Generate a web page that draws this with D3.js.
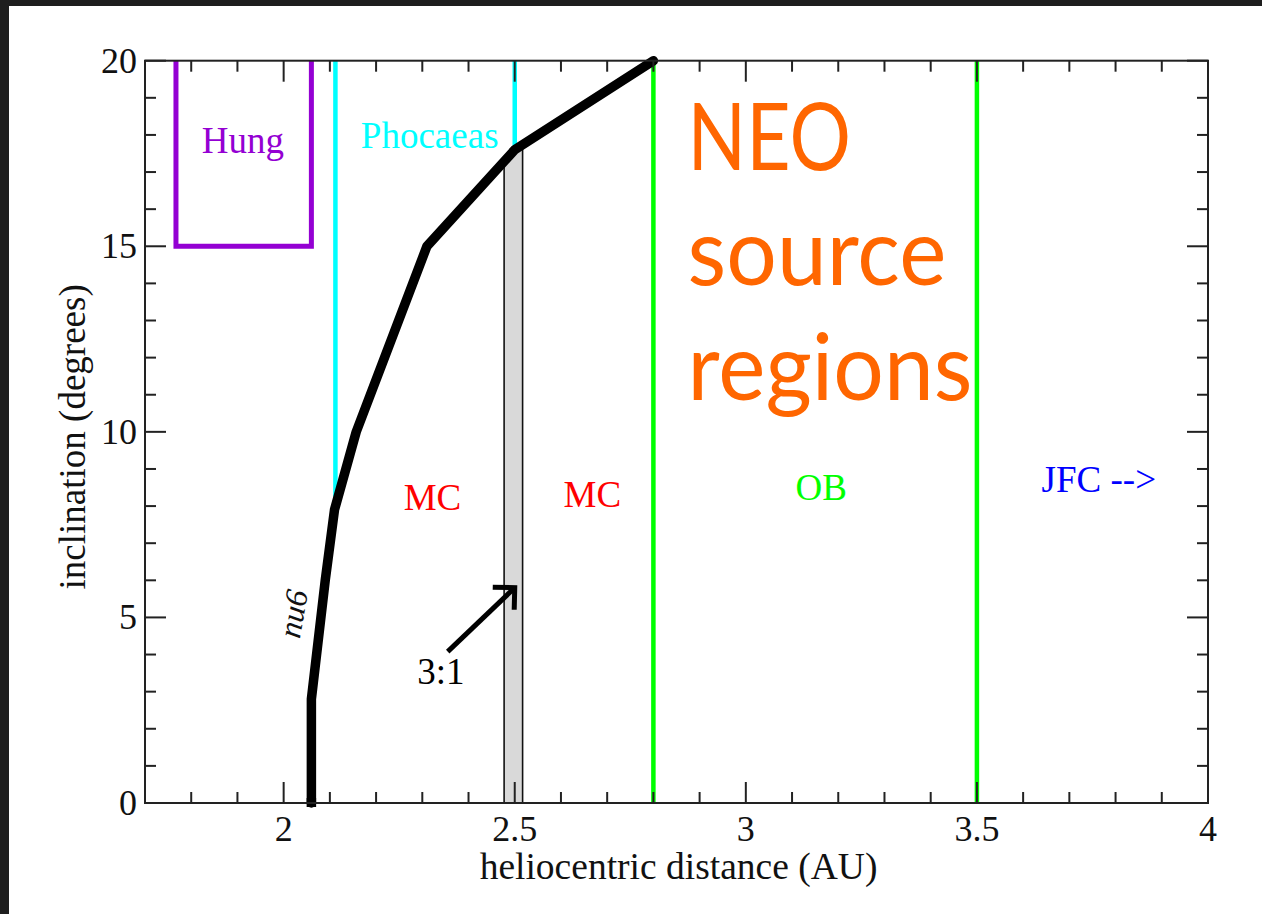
<!DOCTYPE html>
<html>
<head>
<meta charset="utf-8">
<script src="https://cdn.jsdelivr.net/npm/d3@7"></script>
<style>
  html, body { margin: 0; padding: 0; background: #1e1e1e; }
  svg { display: block; }
</style>
</head>
<body>
<script>
// Axis ranges and ticks
const xDomain = [1.7, 4];
const yDomain = [0, 20];
const xMajorTicks = [2, 2.5, 3, 3.5, 4];
const xTickLabels = ["2", "2.5", "3", "3.5", "4"];
const yMajorTicks = [0, 5, 10, 15, 20];
const yTickLabels = ["0", "5", "10", "15", "20"];

// nu6 secular resonance boundary
const nu6Dist = [2.06, 2.06, 2.09, 2.11, 2.157, 2.31, 2.5, 2.8];
const nu6Inc  = [0, 2.8, 6, 7.9, 10, 15, 17.6, 20];

// Hungaria box (semimajor axis range, inclination range)
const hungDist = [1.767, 2.06];
const hungInc = [15, 20];

// Phocaea boundaries: distance, lower inclination, upper inclination
const phocaeaDist = [2.112, 2.5];
const phocaeaLow = [7.9, 17.6];
const phocaeaHigh = [20, 20];

// Outer belt boundaries
const outerBeltDist = [2.8, 3.5];

// 3:1 mean-motion resonance band
const res31Dist = [2.477, 2.517];

// Region labels
const labelText  = ["Hung", "Phocaeas", "MC", "MC", "OB", "JFC -->", "3:1"];
const labelDist  = [1.912, 2.316, 2.322, 2.668, 3.163, 3.640, 2.34];
const labelInc   = [17.5, 17.64, 7.89, 7.97, 8.16, 8.38, 3.2];
const labelColor = ["#9400d3", "#00ffff", "#ff0000", "#ff0000", "#00ff00", "#0000ff", "#000000"];
const labelAnchor = ["middle", "middle", "middle", "middle", "middle", "start", "middle"];

// Arrow pointing at the 3:1 band: [distance, inclination] of tail and tip
const arrowTail = [2.355, 4.08];
const arrowTip = [2.5, 5.8];

// Title block
const titleLines = ["NEO", "source", "regions"];

const W = 1262, H = 914;
const margin = { left: 145, top: 60.7, right: W - 1208, bottom: H - 803 };

const svg = d3.select("body").append("svg")
  .attr("width", W).attr("height", H);

// dark frame with white page
svg.append("rect").attr("width", W).attr("height", H).attr("fill", "#1e1e1e");
svg.append("rect").attr("x", 9).attr("y", 6).attr("width", W - 9).attr("height", H - 6).attr("fill", "#ffffff");

const x = d3.scaleLinear().domain(xDomain).range([margin.left, W - margin.right]);
const y = d3.scaleLinear().domain(yDomain).range([H - margin.bottom, margin.top]);

const serif = "'Liberation Serif', 'Times New Roman', serif";
const axisColor = "#222";

// 3:1 band, top edge follows the nu6 curve
const nu6Interp = d3.scaleLinear().domain(nu6Dist.slice(2)).range(nu6Inc.slice(2));
const bandPts = [
  [res31Dist[0], 0],
  [res31Dist[0], nu6Interp(res31Dist[0])],
  [res31Dist[1], nu6Interp(res31Dist[1])],
  [res31Dist[1], 0]
];
svg.append("path")
  .attr("d", d3.line().x(d => x(d[0])).y(d => y(d[1]))(bandPts))
  .attr("fill", "#d9d9d9").attr("stroke", "none");
res31Dist.forEach(d => {
  svg.append("line")
    .attr("x1", x(d)).attr("x2", x(d))
    .attr("y1", y(0)).attr("y2", y(nu6Interp(d)))
    .attr("stroke", "#111").attr("stroke-width", 1.6);
});

// Hungaria box (open at the top)
svg.append("path")
  .attr("d", d3.line().x(d => x(d[0])).y(d => y(d[1]))([
    [hungDist[0], hungInc[1]], [hungDist[0], hungInc[0]],
    [hungDist[1], hungInc[0]], [hungDist[1], hungInc[1]]
  ]))
  .attr("fill", "none").attr("stroke", "#9400d3").attr("stroke-width", 5);

// Phocaea lines
phocaeaDist.forEach((d, i) => {
  svg.append("line")
    .attr("x1", x(d)).attr("x2", x(d))
    .attr("y1", y(phocaeaLow[i])).attr("y2", y(phocaeaHigh[i]))
    .attr("stroke", "#00ffff").attr("stroke-width", 4.5);
});

// Outer belt lines
outerBeltDist.forEach(d => {
  svg.append("line")
    .attr("x1", x(d)).attr("x2", x(d))
    .attr("y1", y(yDomain[0])).attr("y2", y(yDomain[1]))
    .attr("stroke", "#00ff00").attr("stroke-width", 4.5);
});

// nu6 curve
svg.append("path")
  .attr("d", d3.line().x(d => x(d[0])).y(d => y(d[1]))(nu6Dist.map((d, i) => [d, nu6Inc[i]])))
  .attr("fill", "none").attr("stroke", "#000").attr("stroke-width", 9.5)
  .attr("stroke-linejoin", "round").attr("stroke-linecap", "round");
// extend the foot slightly below the axis
svg.append("line")
  .attr("x1", x(nu6Dist[0])).attr("x2", x(nu6Dist[0]))
  .attr("y1", y(0) - 5).attr("y2", y(0) + 4)
  .attr("stroke", "#000").attr("stroke-width", 9.5);

// Frame
svg.append("rect")
  .attr("x", x(xDomain[0])).attr("y", y(yDomain[1]))
  .attr("width", x(xDomain[1]) - x(xDomain[0]))
  .attr("height", y(yDomain[0]) - y(yDomain[1]))
  .attr("fill", "none").attr("stroke", axisColor).attr("stroke-width", 2);

// Ticks (inward, on all four sides)
const majorLen = 21, minorLen = 11;
const xMinor = d3.range(18, 40).map(v => v / 10).filter(v => !xMajorTicks.some(m => Math.abs(m - v) < 1e-9));
const yMinor = d3.range(1, 20).filter(v => v % 5 !== 0);
const tickG = svg.append("g").attr("stroke", axisColor).attr("stroke-width", 2);
function xTick(v, len) {
  tickG.append("line").attr("x1", x(v)).attr("x2", x(v)).attr("y1", y(0)).attr("y2", y(0) - len);
  tickG.append("line").attr("x1", x(v)).attr("x2", x(v)).attr("y1", y(20)).attr("y2", y(20) + len);
}
function yTick(v, len) {
  tickG.append("line").attr("y1", y(v)).attr("y2", y(v)).attr("x1", x(xDomain[0])).attr("x2", x(xDomain[0]) + len);
  tickG.append("line").attr("y1", y(v)).attr("y2", y(v)).attr("x1", x(xDomain[1])).attr("x2", x(xDomain[1]) - len);
}
xMajorTicks.forEach(v => xTick(v, majorLen));
xMinor.forEach(v => xTick(v, minorLen));
yMajorTicks.forEach(v => yTick(v, majorLen));
yMinor.forEach(v => yTick(v, minorLen));

// Tick labels
xMajorTicks.forEach((v, i) => {
  svg.append("text")
    .attr("x", x(v)).attr("y", y(0) + 38)
    .attr("text-anchor", "middle")
    .attr("font-family", serif).attr("font-size", 36).attr("fill", "#111")
    .text(xTickLabels[i]);
});
yMajorTicks.forEach((v, i) => {
  svg.append("text")
    .attr("x", x(xDomain[0]) - 8).attr("y", y(v) + 12)
    .attr("text-anchor", "end")
    .attr("font-family", serif).attr("font-size", 36).attr("fill", "#111")
    .text(yTickLabels[i]);
});

// Axis titles
svg.append("text")
  .attr("x", (x(xDomain[0]) + x(xDomain[1])) / 2 + 2).attr("y", 879)
  .attr("text-anchor", "middle")
  .attr("font-family", serif).attr("font-size", 37.5).attr("fill", "#111")
  .text("heliocentric distance (AU)");
svg.append("text")
  .attr("transform", `translate(85, ${(y(0) + y(20)) / 2 + 5}) rotate(-90)`)
  .attr("text-anchor", "middle")
  .attr("font-family", serif).attr("font-size", 37).attr("fill", "#111")
  .text("inclination (degrees)");

// Region labels
labelText.forEach((t, i) => {
  svg.append("text")
    .attr("x", x(labelDist[i])).attr("y", y(labelInc[i]))
    .attr("text-anchor", labelAnchor[i])
    .attr("font-family", serif).attr("font-size", 37)
    .attr("fill", labelColor[i])
    .text(t);
});

// nu6 label along the curve
svg.append("text")
  .attr("transform", `translate(${x(2.02)}, ${y(5.1)}) rotate(-80)`)
  .attr("text-anchor", "middle").attr("dy", "0.35em")
  .attr("font-family", serif).attr("font-style", "italic").attr("font-size", 32)
  .attr("fill", "#111")
  .text("nu6");

// Arrow to the 3:1 band
const ax0 = x(arrowTail[0]), ay0 = y(arrowTail[1]);
const ax1 = x(arrowTip[0]), ay1 = y(arrowTip[1]);
const ang = Math.atan2(ay1 - ay0, ax1 - ax0);
const headLen = 22, headAng = Math.PI / 4;
svg.append("line")
  .attr("x1", ax0).attr("y1", ay0).attr("x2", ax1).attr("y2", ay1)
  .attr("stroke", "#000").attr("stroke-width", 5);
svg.append("path")
  .attr("d", `M${ax1 + headLen * Math.cos(ang + Math.PI - headAng)},${ay1 + headLen * Math.sin(ang + Math.PI - headAng)}` +
             `L${ax1},${ay1}` +
             `L${ax1 + headLen * Math.cos(ang + Math.PI + headAng)},${ay1 + headLen * Math.sin(ang + Math.PI + headAng)}`)
  .attr("fill", "none").attr("stroke", "#000").attr("stroke-width", 5).attr("stroke-linejoin", "miter");

// Title block (slightly condensed)
const titleX = x(2.874), titleY = y(17.05);
const titleG = svg.append("g")
  .attr("transform", `translate(${titleX}, ${titleY}) scale(0.95, 1)`)
  .attr("font-family", "Lato, 'Open Sans', sans-serif")
  .attr("font-size", 94).attr("fill", "#ff6600");
titleLines.forEach((t, i) => {
  const tx = titleG.append("text")
    .attr("x", i === 0 ? 0 : 0).attr("y", i * 115)
    .text(t);
  // the first line is set narrower than the rest
  if (i === 0) tx.attr("textLength", 172).attr("lengthAdjust", "spacingAndGlyphs");
});
</script>
</body>
</html>
